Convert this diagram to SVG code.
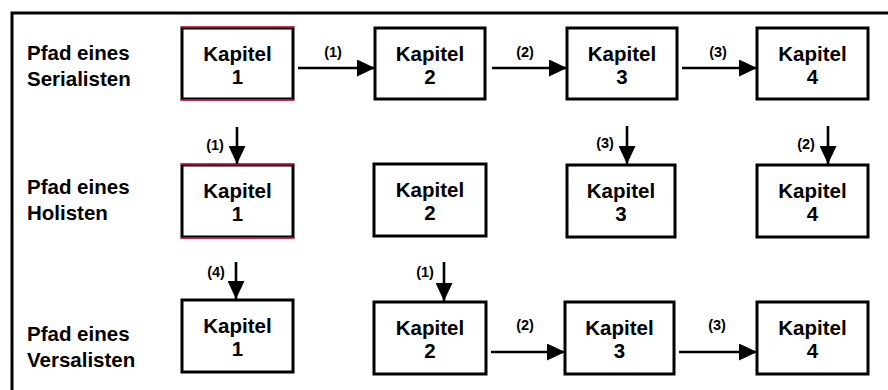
<svg xmlns="http://www.w3.org/2000/svg" width="888" height="390" viewBox="0 0 888 390">
  <style>
    .box { fill: #fff; stroke: #000; stroke-width: 3; }
    .accent { stroke: #e0105a; stroke-width: 1.6; }
    .ktext { font-family: "Liberation Sans", Arial, sans-serif; font-weight: bold; font-size: 20.5px; text-anchor: middle; fill: #000; }
    .row { font-family: "Liberation Sans", Arial, sans-serif; font-weight: bold; font-size: 20.5px; fill: #000; }
    .step { font-family: "Liberation Sans", Arial, sans-serif; font-weight: bold; font-size: 14.5px; text-anchor: middle; fill: #000; }
    .edge { stroke: #000; stroke-width: 2.6; fill: none; marker-end: url(#head); }
    .frame { stroke: #000; stroke-width: 3; fill: none; }
  </style>
  <defs>
    <marker id="head" markerUnits="userSpaceOnUse" markerWidth="19" markerHeight="17" refX="18" refY="8.5" orient="auto">
      <path d="M0,0 L18,8.5 L0,17 Z" fill="#000"/>
    </marker>
  </defs>

  <rect width="888" height="390" fill="#fff"/>
  <!-- outer frame: top and left rules -->
  <path class="frame" d="M12,392 L12,13 L890,13"/>

  <!-- row labels -->
  <g id="label-serialist">
    <text class="row" x="27" y="60">Pfad eines</text>
    <text class="row" x="27" y="86">Serialisten</text>
  </g>
  <g id="label-holist">
    <text class="row" x="27" y="194">Pfad eines</text>
    <text class="row" x="27" y="220">Holisten</text>
  </g>
  <g id="label-versalist">
    <text class="row" x="27" y="341">Pfad eines</text>
    <text class="row" x="27" y="367">Versalisten</text>
  </g>

  <!-- row 1 -->
  <g id="s1">
    <rect class="box" x="182" y="28" width="111" height="71"/>
    <line class="accent" x1="180.5" y1="27" x2="294.5" y2="27"/>
    <line class="accent" x1="180.5" y1="100" x2="294.5" y2="100"/>
    <text class="ktext" x="237.5" y="60.5">Kapitel</text>
    <text class="ktext" x="237.5" y="83.5">1</text>
  </g>
  <g id="s2">
    <rect class="box" x="375" y="28" width="110" height="71"/>
    <text class="ktext" x="430" y="60.5">Kapitel</text>
    <text class="ktext" x="430" y="83.5">2</text>
  </g>
  <g id="s3">
    <rect class="box" x="567" y="28" width="110" height="71"/>
    <text class="ktext" x="622" y="60.5">Kapitel</text>
    <text class="ktext" x="622" y="83.5">3</text>
  </g>
  <g id="s4">
    <rect class="box" x="757" y="28" width="111" height="71"/>
    <text class="ktext" x="812.5" y="60.5">Kapitel</text>
    <text class="ktext" x="812.5" y="83.5">4</text>
  </g>

  <!-- row 2 -->
  <g id="h1">
    <rect class="box" x="182" y="165" width="111" height="72"/>
    <line class="accent" x1="180.5" y1="164" x2="294.5" y2="164"/>
    <line class="accent" x1="180.5" y1="238" x2="294.5" y2="238"/>
    <text class="ktext" x="237.5" y="197.5">Kapitel</text>
    <text class="ktext" x="237.5" y="220.5">1</text>
  </g>
  <g id="h2">
    <rect class="box" x="374" y="164" width="112" height="72"/>
    <text class="ktext" x="430" y="196.5">Kapitel</text>
    <text class="ktext" x="430" y="219.5">2</text>
  </g>
  <g id="h3">
    <rect class="box" x="567" y="165" width="108" height="72"/>
    <text class="ktext" x="621" y="197.5">Kapitel</text>
    <text class="ktext" x="621" y="220.5">3</text>
  </g>
  <g id="h4">
    <rect class="box" x="757" y="165" width="111" height="72"/>
    <text class="ktext" x="812.5" y="197.5">Kapitel</text>
    <text class="ktext" x="812.5" y="220.5">4</text>
  </g>

  <!-- row 3 -->
  <g id="v1">
    <rect class="box" x="182" y="300" width="111" height="72"/>
    <text class="ktext" x="237.5" y="332.5">Kapitel</text>
    <text class="ktext" x="237.5" y="355.5">1</text>
  </g>
  <g id="v2">
    <rect class="box" x="374" y="302" width="112" height="72"/>
    <text class="ktext" x="430" y="334.5">Kapitel</text>
    <text class="ktext" x="430" y="357.5">2</text>
  </g>
  <g id="v3">
    <rect class="box" x="565" y="302" width="109" height="72"/>
    <text class="ktext" x="619.5" y="334.5">Kapitel</text>
    <text class="ktext" x="619.5" y="357.5">3</text>
  </g>
  <g id="v4">
    <rect class="box" x="757" y="302" width="111" height="72"/>
    <text class="ktext" x="812.5" y="334.5">Kapitel</text>
    <text class="ktext" x="812.5" y="357.5">4</text>
  </g>

  <!-- connectors -->
  <g id="connectors">
    <line class="edge" x1="298" y1="68" x2="375" y2="68"/>
    <line class="edge" x1="492" y1="68" x2="567" y2="68"/>
    <line class="edge" x1="682" y1="68" x2="757" y2="68"/>

    <line class="edge" x1="237" y1="127" x2="237" y2="164"/>
    <line class="edge" x1="627" y1="126" x2="627" y2="164"/>
    <line class="edge" x1="828" y1="126" x2="828" y2="164"/>

    <line class="edge" x1="236" y1="262" x2="236" y2="299"/>
    <line class="edge" x1="444" y1="262" x2="444" y2="301"/>

    <line class="edge" x1="491" y1="352" x2="565" y2="352"/>
    <line class="edge" x1="679" y1="352" x2="757" y2="352"/>

    <text class="step" x="333" y="57">(1)</text>
    <text class="step" x="525" y="57">(2)</text>
    <text class="step" x="718" y="57">(3)</text>
    <text class="step" x="215" y="150">(1)</text>
    <text class="step" x="605" y="148">(3)</text>
    <text class="step" x="806" y="149">(2)</text>
    <text class="step" x="216" y="277">(4)</text>
    <text class="step" x="425" y="277">(1)</text>
    <text class="step" x="525" y="330">(2)</text>
    <text class="step" x="717" y="330">(3)</text>
  </g>
</svg>
